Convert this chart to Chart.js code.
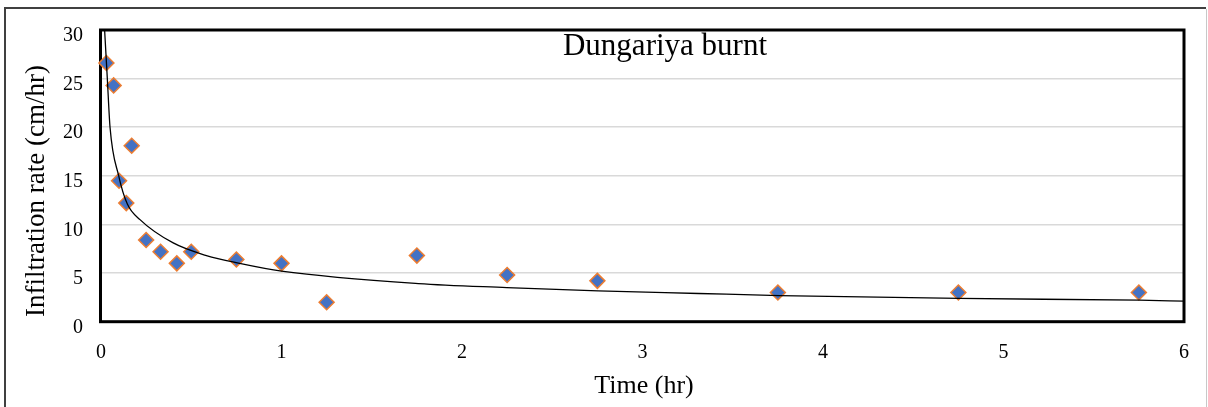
<!DOCTYPE html>
<html>
<head>
<meta charset="utf-8">
<title>Dungariya burnt</title>
<script src="https://cdn.jsdelivr.net/npm/chart.js@4.4.1/dist/chart.umd.min.js"></script>
<style>
  html, body { margin: 0; padding: 0; background: #ffffff; }
  canvas { display: block; }
</style>
</head>
<body>
<canvas id="chart" width="1208" height="407"></canvas>
<script>
// Observed infiltration rate (cm/hr) against elapsed time (hr)
const timeHr = [0.03, 0.07, 0.10, 0.14, 0.17, 0.25, 0.33, 0.42, 0.50, 0.75, 1.00, 1.25, 1.75, 2.25, 2.75, 3.75, 4.75, 5.75];
const rateCmHr = [26.6, 24.3, 14.5, 12.2, 18.1, 8.4, 7.2, 6.0, 7.2, 6.4, 6.0, 2.0, 6.8, 4.8, 4.2, 3.0, 3.0, 3.0];

// Fitted decay curve through the observations
const trendTime = [0.020, 0.035, 0.050, 0.098, 0.146, 0.216, 0.400, 0.584, 0.768, 1.0, 1.758, 2.248, 2.754, 3.311, 3.759, 4.755, 5.752, 6.0];
const trendRate = [30.0, 25.0, 20.0, 15.0, 12.1, 10.5, 8.1, 6.8, 6.0, 5.2, 3.92, 3.51, 3.16, 2.9, 2.69, 2.39, 2.21, 2.12];

// Axis tick values
const xTicks = [0, 1, 2, 3, 4, 5, 6];
const yTicks = [0, 5, 10, 15, 20, 25, 30];

const chartTitle = 'Dungariya burnt';
const xTitle = 'Time (hr)';
const yTitle = 'Infiltration rate (cm/hr)';

const serif = '"Liberation Serif", "Times New Roman", serif';

const observed = timeHr.map((t, i) => ({ x: t, y: rateCmHr[i] }));
const trend = trendTime.map((t, i) => ({ x: t, y: trendRate[i] }));

// Frame, plot border and text labels drawn around the chart
const decorations = {
  id: 'decorations',
  beforeDraw(chart) {
    const ctx = chart.ctx;
    ctx.save();
    ctx.fillStyle = '#ffffff';
    ctx.fillRect(0, 0, chart.width, chart.height);
    ctx.restore();
  },
  beforeDatasetsDraw(chart) {
    const { ctx, chartArea: a } = chart;
    ctx.save();
    ctx.strokeStyle = '#000000';
    ctx.lineWidth = 3;
    ctx.strokeRect(a.left - 0.5, a.top, a.right - a.left + 0.5, a.bottom - a.top);
    ctx.restore();
  },
  afterDraw(chart) {
    const ctx = chart.ctx;
    ctx.save();
    // outer frame
    ctx.lineWidth = 2;
    ctx.strokeStyle = '#404040';
    ctx.beginPath();
    ctx.moveTo(5, chart.height);
    ctx.lineTo(5, 8);
    ctx.lineTo(1206, 8);
    ctx.stroke();
    ctx.lineWidth = 1;
    ctx.strokeStyle = '#c8c8c8';
    ctx.beginPath();
    ctx.moveTo(1206.5, 9);
    ctx.lineTo(1206.5, chart.height);
    ctx.stroke();

    ctx.fillStyle = '#000000';
    // chart title inside the plot
    ctx.font = '31px ' + serif;
    ctx.textAlign = 'center';
    ctx.textBaseline = 'alphabetic';
    ctx.fillText(chartTitle, 665, 55);

    // x axis title
    ctx.font = '26px ' + serif;
    ctx.textBaseline = 'middle';
    ctx.fillText(xTitle, 644, 386);

    // y axis title
    ctx.translate(37, 191);
    ctx.rotate(-Math.PI / 2);
    ctx.font = '27px ' + serif;
    ctx.fillText(yTitle, 0, 0);
    ctx.restore();
  }
};

new Chart(document.getElementById('chart'), {
  type: 'scatter',
  data: {
    datasets: [
      {
        label: 'Trend',
        data: trend,
        showLine: true,
        borderColor: '#000000',
        borderWidth: 1.3,
        pointRadius: 0,
        pointHoverRadius: 0,
        fill: false,
        cubicInterpolationMode: 'monotone'
      },
      {
        label: 'Infiltration rate',
        data: observed,
        showLine: false,
        pointStyle: 'rectRot',
        pointRadius: 7.5,
        pointHoverRadius: 7.5,
        backgroundColor: '#4472C4',
        borderColor: '#ED7D31',
        borderWidth: 1.5,
        clip: false
      }
    ]
  },
  options: {
    responsive: false,
    devicePixelRatio: 1,
    animation: false,
    layout: { padding: { left: 0, top: 27.7, right: 21.5, bottom: 0 } },
    plugins: {
      legend: { display: false },
      tooltip: { enabled: false },
      title: { display: false }
    },
    scales: {
      x: {
        type: 'linear',
        min: 0,
        max: 6,
        afterFit(scale) { scale.height = 407 - 321.7; },
        afterBuildTicks(scale) { scale.ticks = xTicks.map(v => ({ value: v })); },
        grid: { display: false, drawTicks: false },
        border: { display: false },
        ticks: {
          padding: 19,
          color: '#000000',
          font: { family: serif, size: 20 },
          maxRotation: 0
        }
      },
      y: {
        type: 'linear',
        min: 0,
        max: 30,
        afterFit(scale) { scale.width = 101; },
        afterBuildTicks(scale) { scale.ticks = yTicks.map(v => ({ value: v })); },
        grid: { color: '#D9D9D9', lineWidth: 1.5, drawTicks: false },
        border: { display: false },
        ticks: {
          padding: 18,
          labelOffset: 6,
          color: '#000000',
          font: { family: serif, size: 20 }
        }
      }
    }
  },
  plugins: [decorations]
});
</script>
</body>
</html>
